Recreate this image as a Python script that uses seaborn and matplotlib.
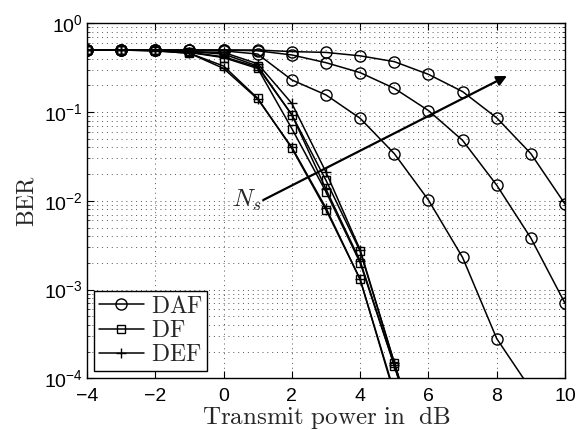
import numpy as np
import pandas as pd
import matplotlib
matplotlib.use("Agg")
import matplotlib.pyplot as plt
from matplotlib.lines import Line2D
from matplotlib.ticker import FixedLocator, FuncFormatter, LogLocator, NullFormatter
import seaborn as sns

# ---- data ----
power_daf = [-5, -4, -3, -2, -1, 0, 1, 2, 3, 4, 5, 6, 7, 8, 9, 10]
daf_ns1 = [0.5, 0.5, 0.5, 0.5, 0.5, 0.49, 0.45, 0.23, 0.156, 0.085, 0.034, 0.0102, 0.0023, 2.8e-4, 7.5e-5, 2e-5]
daf_ns2 = [0.5, 0.5, 0.5, 0.5, 0.5, 0.5, 0.49, 0.44, 0.36, 0.278, 0.185, 0.104, 0.048, 0.015, 0.0038, 7e-4]
daf_ns3 = [0.5, 0.5, 0.5, 0.5, 0.5, 0.5, 0.5, 0.48, 0.47, 0.43, 0.37, 0.266, 0.17, 0.086, 0.034, 0.0092]

power_df = [-5, -4, -3, -2, -1, 0, 1, 2, 3, 4, 5, 6]
df_ns1 = [0.5, 0.5, 0.5, 0.49, 0.46, 0.33, 0.143, 0.039, 0.0079, 0.0013, 6.6e-5, 3e-6]
df_ns2 = [0.5, 0.5, 0.5, 0.495, 0.47, 0.41, 0.31, 0.065, 0.0126, 0.002, 1.39e-4, 8e-6]
df_ns3 = [0.5, 0.5, 0.5, 0.5, 0.48, 0.45, 0.33, 0.093, 0.017, 0.0027, 1.5e-4, 8e-6]
def_ns1 = [0.5, 0.5, 0.5, 0.49, 0.46, 0.31, 0.14, 0.040, 0.0083, 0.0013, 7e-5, 3e-6]
def_ns2 = [0.5, 0.5, 0.5, 0.495, 0.47, 0.42, 0.32, 0.093, 0.0135, 0.0021, 1.4e-4, 8e-6]
def_ns3 = [0.5, 0.5, 0.5, 0.5, 0.48, 0.47, 0.35, 0.125, 0.021, 0.0028, 1.5e-4, 9e-6]

xticks = [-4, -2, 0, 2, 4, 6, 8, 10]
yticks = [1e-4, 1e-3, 1e-2, 1e-1, 1e0]
schemes = ["DAF", "DF", "DEF"]

rows = []
for ns, vals in zip([1, 2, 3], [daf_ns1, daf_ns2, daf_ns3]):
    for p, v in zip(power_daf, vals):
        rows.append(("DAF", ns, p, v))
for ns, vals in zip([1, 2, 3], [df_ns1, df_ns2, df_ns3]):
    for p, v in zip(power_df, vals):
        rows.append(("DF", ns, p, v))
for ns, vals in zip([1, 2, 3], [def_ns1, def_ns2, def_ns3]):
    for p, v in zip(power_df, vals):
        rows.append(("DEF", ns, p, v))
df = pd.DataFrame(rows, columns=["scheme", "Ns", "power", "ber"])
df["curve"] = df["scheme"] + df["Ns"].astype(str)

sns.set_style("ticks")
plt.rcParams["font.family"] = ["Liberation Sans", "DejaVu Sans"]
plt.rcParams["mathtext.fontset"] = "cm"
plt.rcParams["xtick.direction"] = "in"
plt.rcParams["ytick.direction"] = "in"

fig = plt.figure(figsize=(5.84, 4.30), dpi=100)
ax = fig.add_axes([0.149, 0.1202, 0.8185, 0.8256])

markers = {"DAF": "o", "DF": "s", "DEF": "+"}
sizes = {"DAF": 8, "DF": 6, "DEF": 7}
for s in schemes:
    sub = df[df["scheme"] == s]
    sns.lineplot(data=sub, x="power", y="ber", units="curve", estimator=None,
                 color="black", lw=1.1, marker=markers[s],
                 markersize=sizes[s], markerfacecolor="none", markeredgecolor="black",
                 markeredgewidth=1.0, legend=False, ax=ax, sort=True)

ax.set_yscale("log")
ax.set_xlim(-4, 10)
ax.set_ylim(1e-4, 1)
ax.xaxis.set_major_locator(FixedLocator(xticks))
ax.yaxis.set_major_locator(FixedLocator(yticks))
ax.yaxis.set_minor_locator(LogLocator(base=10, subs=np.arange(2, 10)))
ax.yaxis.set_minor_formatter(NullFormatter())
ax.xaxis.set_major_formatter(FuncFormatter(lambda v, p: f"{int(v)}".replace("-", "\u2212")))
ax.yaxis.set_major_formatter(FuncFormatter(lambda v, p: r"$\mathdefault{10^{%d}}$" % int(round(np.log10(v)))))

ax.tick_params(axis="both", which="major", labelsize=14, length=5, width=0.8,
               top=True, right=True, color="black", labelcolor="black", pad=3)
ax.tick_params(axis="x", which="major", pad=7)
ax.tick_params(axis="y", which="minor", length=2.5, width=0.6, right=True, left=True)

ax.grid(True, which="major", axis="both", linestyle=(0, (1, 4)), linewidth=0.7, color="#555555")
ax.grid(True, which="minor", axis="y", linestyle=(0, (1, 4)), linewidth=0.7, color="#555555")
for sp in ax.spines.values():
    sp.set_linewidth(1.0)
    sp.set_color("black")

ax.set_xlabel(r"$\mathrm{Transmit\ power\ in\ \ dB}$", fontsize=18, labelpad=-1)
ax.set_ylabel(r"$\mathrm{BER}$", fontsize=17, labelpad=4)

# arrow for N_s
ax.annotate("", xy=(8.3, 0.255), xytext=(1.16, 0.0102),
            arrowprops=dict(arrowstyle="-|>", lw=1.6, color="black", mutation_scale=15,
                            shrinkA=0, shrinkB=0))
ax.text(1.12, 0.0102, r"$N_s$", ha="right", va="center", fontsize=18)

handles = [Line2D([], [], color="black", lw=1.1, marker=markers[s], markersize=sizes[s],
                  markerfacecolor="none", markeredgecolor="black", markeredgewidth=1.0)
           for s in schemes]
labels = [r"$\mathrm{%s}$" % s for s in schemes]
leg = ax.legend(handles, labels, loc="lower left", bbox_to_anchor=(0.0146, 0.0206),
                borderaxespad=0, fontsize=17, fancybox=False, framealpha=1,
                edgecolor="black", handlelength=1.9, handletextpad=0.3,
                labelspacing=0.1, borderpad=0.2)
leg.get_frame().set_linewidth(1.0)

fig.savefig("out.png", dpi=100)
